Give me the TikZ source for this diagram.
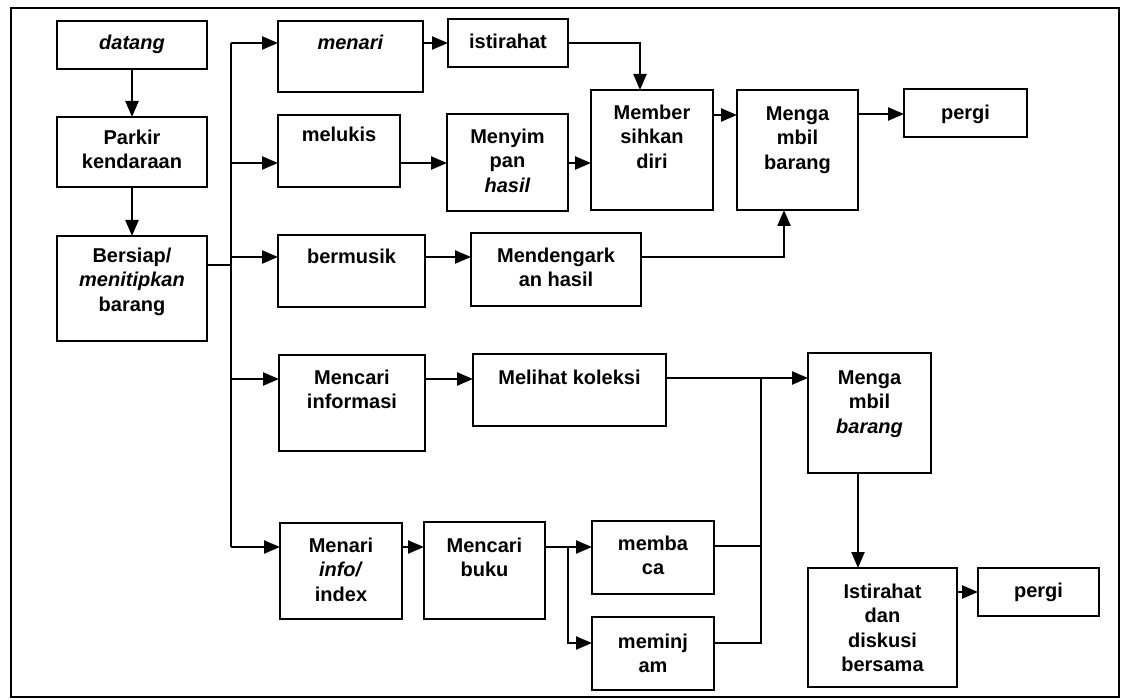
\documentclass[tikz,border=0pt]{standalone}
\usepackage{fontspec}
\setmainfont{Liberation Sans}
\usetikzlibrary{arrows.meta,calc}
\tikzset{
  box/.style={draw, line width=2.5pt, inner sep=0pt, outer sep=0pt},
  txt/.style={anchor=north, inner sep=0pt, align=center, font=\fontsize{20}{24.5}\selectfont\bfseries},
  wire/.style={line width=2.3pt},
  arr/.style={wire, -{Triangle[length=16pt,width=13pt]}},
}
\newcommand\flowbox[7]{%
  \node[box, minimum width={(#4-#2)*1pt}, minimum height={(#5-#3)*1pt}] (#1) at ({(#2+#4)/2},{(#3+#5)/2}) {};
  \node[txt] (#1t) at ([yshift={-(#6-12)*1pt}]#1.north) {\strut #7};
}
\begin{document}
\begin{tikzpicture}[x=1pt,y=-1pt]
\useasboundingbox (0,0) rectangle (1124,700);
\draw[line width=2.3pt] (11,8) rectangle (1119,697);

\flowbox{datang}{57}{21}{207}{69}{23}{\textit{datang}}
\flowbox{parkir}{57}{117}{207}{187}{22}{Parkir\\kendaraan}
\flowbox{siap}{57}{236}{207}{341}{21}{Bersiap/\\\textit{menitipkan}\\barang}

\flowbox{menari}{278}{21}{423}{92}{23}{\textit{menari}}
\flowbox{melukis}{278}{115}{400}{187}{21}{melukis}
\flowbox{musik}{278}{235}{425}{307}{23}{bermusik}
\flowbox{istirahat}{448}{19}{568}{67}{24}{istirahat}
\flowbox{simpan}{447}{114}{568}{211}{24}{Menyim\\pan\\\textit{hasil}}
\flowbox{bersih}{591}{90}{713}{210}{24}{Member\\sihkan\\diri}
\flowbox{ambila}{737}{90}{858}{210}{25}{Menga\\mbil\\barang}
\flowbox{pergia}{904}{89}{1027}{137}{25}{pergi}
\flowbox{dengar}{471}{233}{641}{306}{24}{Mendengark\\an hasil}

\flowbox{cinfo}{279}{355}{425}{451}{24}{Mencari\\informasi}
\flowbox{lihat}{473}{354}{666}{426}{25}{Melihat koleksi}
\flowbox{index}{280}{523}{402}{619}{24}{Menari\\\textit{info/}\\index}
\flowbox{buku}{424}{522}{545}{619}{25}{Mencari\\buku}
\flowbox{baca}{592}{521}{714}{594}{24}{memba\\ca}
\flowbox{pinjam}{592}{617}{714}{690}{26}{meminj\\am}
\flowbox{ambilb}{808}{353}{931}{473}{26}{Menga\\mbil\\\textit{barang}}
\flowbox{diskusi}{808}{568}{957}{687}{25}{Istirahat\\dan\\diskusi\\bersama}
\flowbox{pergib}{978}{568}{1099}{616}{24}{pergi}

% left column
\draw[arr] (datang.south) -- (parkir.north);
\draw[arr] (parkir.south) -- (siap.north);
\coordinate (bus) at (231,265);
\draw[wire] (siap.east |- bus) -- (bus);
\draw[wire] (bus |- 0,43) -- (bus |- 0,547);
\draw[arr] (bus |- 0,43) -- (menari.west |- 0,43);
\draw[arr] (bus |- 0,163) -- (melukis.west |- 0,163);
\draw[arr] (bus |- 0,257) -- (musik.west |- 0,257);
\draw[arr] (bus |- 0,379) -- (cinfo.west |- 0,379);
\draw[arr] (bus |- 0,547) -- (index.west |- 0,547);

% top branch
\draw[arr] (menari.east |- 0,43) -- (istirahat.west |- 0,43);
\draw[arr] (istirahat.east) -| (bersih.north -| 640,0);
\draw[arr] (melukis.east |- 0,163) -- (simpan.west |- 0,163);
\draw[arr] (simpan.east |- 0,163) -- (bersih.west |- 0,163);
\draw[arr] (bersih.east |- 0,115) -- (ambila.west |- 0,115);
\draw[arr] (ambila.east |- 0,114) -- (pergia.west |- 0,114);
\draw[arr] (musik.east |- 0,257) -- (dengar.west |- 0,257);
\draw[arr] (dengar.east |- 0,257) -| (ambila.south -| 784,0);

% bottom branch
\draw[arr] (cinfo.east |- 0,379) -- (lihat.west |- 0,379);
\draw[arr] (lihat.east |- 0,378) -- (ambilb.west |- 0,378);
\draw[arr] (index.east |- 0,547) -- (buku.west |- 0,547);
\coordinate (split) at (568,547);
\draw[wire] (buku.east |- split) -- (split);
\draw[arr] (split) -- (baca.west |- split);
\draw[arr] (split) |- (pinjam.west |- 0,643);
\coordinate (merge) at (761,378);
\draw[wire] (baca.east |- 0,546) -| (merge);
\draw[wire] (pinjam.east |- 0,643) -| (merge);
\draw[arr] (ambilb.south -| 858,0) -- (diskusi.north -| 858,0);
\draw[arr] (diskusi.east |- 0,592) -- (pergib.west |- 0,592);
\end{tikzpicture}
\end{document}
